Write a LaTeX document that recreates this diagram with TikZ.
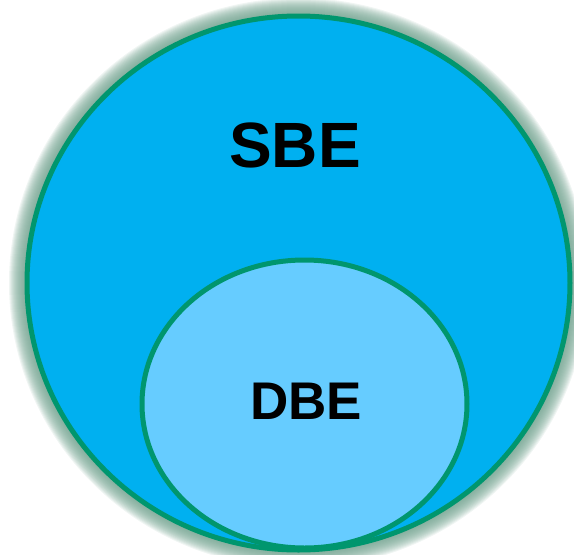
\documentclass[tikz,border=0pt]{standalone}
\usepackage{fontspec}
\setmainfont{Liberation Sans}
\definecolor{outerfill}{RGB}{0,176,240}
\definecolor{innerfill}{RGB}{102,204,255}
\definecolor{rim}{RGB}{0,150,110}
\definecolor{glowc}{RGB}{110,160,140}
\tikzset{
  setshape/.style={draw=rim, line width=5pt},
  setlabel/.style={font=\bfseries, text=black, inner sep=0pt}
}
\begin{document}
\begin{tikzpicture}[x=1pt,y=-1pt]
\useasboundingbox (0,0) rectangle (574,555);
\foreach \i in {1,...,18}{
  \fill[glowc, opacity=0.1] (298.5,283) ellipse ({271.5+\i} and {267+\i});
}
\fill[white] (298.5,283) ellipse (271.5 and 267);
\draw[setshape, fill=outerfill] (298.5,283) ellipse (271.5 and 267);
\draw[setshape, fill=innerfill] (304.5,404) ellipse (162.5 and 144);
\node[setlabel, font=\fontsize{64}{64}\selectfont\bfseries] (sbe) at (295,145) {SBE};
\node[setlabel, font=\fontsize{53}{53}\selectfont\bfseries] (dbe) at (306,401) {DBE};
\end{tikzpicture}
\end{document}
